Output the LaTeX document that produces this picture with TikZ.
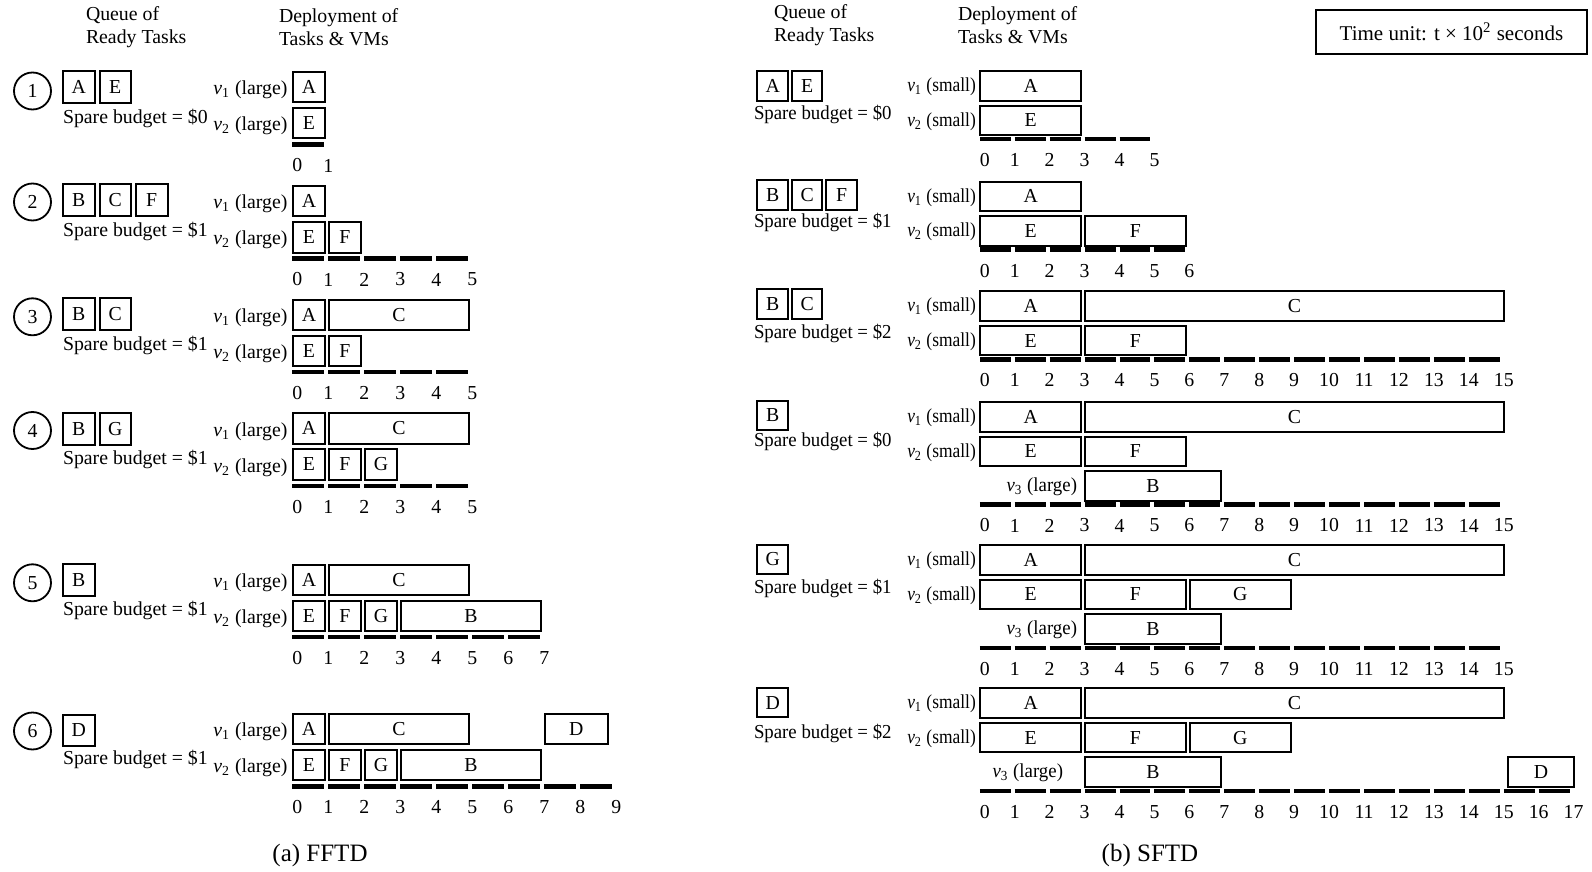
\documentclass[tikz,border=0pt]{standalone}
\usepackage{fontspec}
\setmainfont{Liberation Serif}
\newfontfamily\narrowa{Liberation Serif}[FakeStretch=0.88]
\newfontfamily\narrowb{Liberation Serif}[FakeStretch=0.95]
\usetikzlibrary{positioning}

\newcommand{\readyq}[3]{% prefix, y, tasks
  \foreach \q [count=\k] in {#3}
    \node[qbox] (#1q\k) at ({\qx+(\k-1)*\qp},#2) {\q};}
\newcommand{\vmlabel}[4]{% prefix, top, k, size
  \node[vmlab] (#1v#3) at ({\xo-\lo},{#2+(#3-1)*\vp+\bh/2+\ly})
    {\textit{v}\textsubscript{#3} (#4)};}
\newcommand{\tk}[6]{% name, top, k, start, end, task
  \node[taskbox,minimum width={((#5)-(#4))*\un*0.5pt-2pt}]
    (#1) at ({\xo+(#4)*\un+0.5},{#2+(#3-1)*\vp}) {#6};}
\newcommand{\timeline}[4]{% prefix, top, vms, units
  \foreach \i in {1,...,#4}
    \draw[bar] ({\xo+(\i-1)*\un},{#2+#3*\vp+\bo}) -- ({\xo+\i*\un-4},{#2+#3*\vp+\bo});
  \foreach \i in {0,...,#4}
    \node[tick] (#1t\i) at ({\xo+\i*\un+5*(\i==0)},{#2+#3*\vp+\bo+21}) {\i};}

\begin{document}
\begin{tikzpicture}[x=0.5pt,y=-0.5pt,
  every node/.style={inner sep=0pt,outer sep=0pt,font=\fontsize{9.9}{11.8}\selectfont},
  taskbox/.style={draw,line width=1pt,minimum height={\bh*0.5pt},anchor=north west},
  qbox/.style={draw,line width=1pt,minimum width={\qw*0.5pt},minimum height={\qh*0.5pt},anchor=west},
  stepno/.style={circle,draw,line width=0.9pt,minimum size=18.5pt},
  vmlab/.style={anchor=east},
  spare/.style={anchor=west},
  bar/.style={line width=2.2pt},
  tick/.style={},
  head/.style={align=left,anchor=west},
  caption/.style={font=\fontsize{12.5}{15}\selectfont}]
  \useasboundingbox (0,0) rectangle (1592,872);
  % column heads
  \node[head] (aqh) at (86,27) {Queue of\\Ready Tasks};
  \node[head] (adh) at (279,27) {Deployment of\\Tasks \& VMs};
  \node[head] (bqh) at (774,25) {Queue of\\Ready Tasks};
  \node[head] (bdh) at (958,25) {Deployment of\\Tasks \& VMs};
  \node[draw,line width=1pt,minimum width=135.5pt,minimum height=22pt,
        font=\fontsize{10.5}{13}\selectfont]
        (unit) at (1451.5,32) {Time unit: t × 10\textsuperscript{2} seconds};

  % (a) FFTD
  \def\xo{292.4}\def\un{36}\def\bh{30.5}\def\vp{36}\def\bo{0.5}\def\lo{5}\def\ly{3}
  \def\qx{63}\def\qp{36.5}\def\qw{31.5}\def\qh{31.5}
  % step 1
  \node[stepno] (a1n) at (32.5,91) {1};
  \readyq{a1}{87}{A,E}
  \node[spare] (a1s) at (63,118.5) {Spare budget = \$0};
  \vmlabel{a1}{72}{1}{large} \vmlabel{a1}{72}{2}{large}
  \tk{a1A}{72}{1}{0}{1}{A} \tk{a1E}{72}{2}{0}{1}{E}
  \timeline{a1}{72}{2}{1}
  % step 2
  \node[stepno] (a2n) at (32.5,202) {2};
  \readyq{a2}{200}{B,C,F}
  \node[spare] (a2s) at (63,231.5) {Spare budget = \$1};
  \vmlabel{a2}{186}{1}{large} \vmlabel{a2}{186}{2}{large}
  \tk{a2A}{186}{1}{0}{1}{A} \tk{a2E}{186}{2}{0}{1}{E} \tk{a2F}{186}{2}{1}{2}{F}
  \timeline{a2}{186}{2}{5}
  % step 3
  \node[stepno] (a3n) at (32.5,316.8) {3};
  \readyq{a3}{314}{B,C}
  \node[spare] (a3s) at (63,345) {Spare budget = \$1};
  \vmlabel{a3}{299.5}{1}{large} \vmlabel{a3}{299.5}{2}{large}
  \tk{a3A}{299.5}{1}{0}{1}{A} \tk{a3C}{299.5}{1}{1}{5}{C}
  \tk{a3E}{299.5}{2}{0}{1}{E} \tk{a3F}{299.5}{2}{1}{2}{F}
  \timeline{a3}{299.5}{2}{5}
  % step 4
  \node[stepno] (a4n) at (32.5,430.5) {4};
  \readyq{a4}{429}{B,G}
  \node[spare] (a4s) at (63,459) {Spare budget = \$1};
  \vmlabel{a4}{413.2}{1}{large} \vmlabel{a4}{413.2}{2}{large}
  \tk{a4A}{413.2}{1}{0}{1}{A} \tk{a4C}{413.2}{1}{1}{5}{C}
  \tk{a4E}{413.2}{2}{0}{1}{E} \tk{a4F}{413.2}{2}{1}{2}{F} \tk{a4G}{413.2}{2}{2}{3}{G}
  \timeline{a4}{413.2}{2}{5}
  % step 5
  \node[stepno] (a5n) at (32.5,582.8) {5};
  \readyq{a5}{580}{B}
  \node[spare] (a5s) at (63,610) {Spare budget = \$1};
  \vmlabel{a5}{564.5}{1}{large} \vmlabel{a5}{564.5}{2}{large}
  \tk{a5A}{564.5}{1}{0}{1}{A} \tk{a5C}{564.5}{1}{1}{5}{C}
  \tk{a5E}{564.5}{2}{0}{1}{E} \tk{a5F}{564.5}{2}{1}{2}{F} \tk{a5G}{564.5}{2}{2}{3}{G}
  \tk{a5B}{564.5}{2}{3}{7}{B}
  \timeline{a5}{564.5}{2}{7}
  % step 6
  \node[stepno] (a6n) at (32.5,731) {6};
  \readyq{a6}{730.5}{D}
  \node[spare] (a6s) at (63,759.4) {Spare budget = \$1};
  \vmlabel{a6}{713.8}{1}{large} \vmlabel{a6}{713.8}{2}{large}
  \tk{a6A}{713.8}{1}{0}{1}{A} \tk{a6C}{713.8}{1}{1}{5}{C} \tk{a6D}{713.8}{1}{7}{8.85}{D}
  \tk{a6E}{713.8}{2}{0}{1}{E} \tk{a6F}{713.8}{2}{1}{2}{F} \tk{a6G}{713.8}{2}{2}{3}{G}
  \tk{a6B}{713.8}{2}{3}{7}{B}
  \timeline{a6}{713.8}{2}{9}
  \node[caption] (acap) at (320,855) {(a) FFTD};

  % (b) SFTD
  \def\xo{979.8}\def\un{34.93}\def\bh{29.5}\def\vp{34.5}\def\bo{(-1)}\def\lo{4}\def\ly{1}
  \def\qx{757.4}\def\qp{34.5}\def\qw{30.5}\def\qh{29.5}
  \tikzset{vmlab/.append style={font=\fontsize{9.9}{11.8}\narrowa},
           spare/.append style={font=\fontsize{9.9}{11.8}\narrowb},
           bigvm/.style={anchor=east,font=\fontsize{9.9}{11.8}\narrowb}}
  % step 1
  \readyq{b1}{85.8}{A,E}
  \node[spare] (b1s) at (754,114) {Spare budget = \$0};
  \vmlabel{b1}{71.1}{1}{small} \vmlabel{b1}{71.1}{2}{small}
  \tk{b1A}{71.1}{1}{0}{3}{A} \tk{b1E}{71.1}{2}{0}{3}{E}
  \timeline{b1}{71.1}{2}{5}
  % step 2
  \readyq{b2}{195}{B,C,F}
  \node[spare] (b2s) at (754,222.3) {Spare budget = \$1};
  \vmlabel{b2}{181.7}{1}{small} \vmlabel{b2}{181.7}{2}{small}
  \tk{b2A}{181.7}{1}{0}{3}{A} \tk{b2E}{181.7}{2}{0}{3}{E} \tk{b2F}{181.7}{2}{3}{6}{F}
  \timeline{b2}{181.7}{2}{6}
  % step 3
  \readyq{b3}{304}{B,C}
  \node[spare] (b3s) at (754,333) {Spare budget = \$2};
  \vmlabel{b3}{291.4}{1}{small} \vmlabel{b3}{291.4}{2}{small}
  \tk{b3A}{291.4}{1}{0}{3}{A} \tk{b3C}{291.4}{1}{3}{15.1}{C}
  \tk{b3E}{291.4}{2}{0}{3}{E} \tk{b3F}{291.4}{2}{3}{6}{F}
  \timeline{b3}{291.4}{2}{15}
  % step 4
  \readyq{b4}{415.3}{B}
  \node[spare] (b4s) at (754,441.6) {Spare budget = \$0};
  \vmlabel{b4}{402}{1}{small} \vmlabel{b4}{402}{2}{small}
  \node[bigvm] (b4v3) at (1077,486.8) {\textit{v}\textsubscript{3} (large)};
  \tk{b4A}{402}{1}{0}{3}{A} \tk{b4C}{402}{1}{3}{15.1}{C}
  \tk{b4E}{402}{2}{0}{3}{E} \tk{b4F}{402}{2}{3}{6}{F}
  \tk{b4B}{402}{3}{3}{7}{B}
  \timeline{b4}{402}{3}{15}
  % step 5
  \readyq{b5}{559.4}{G}
  \node[spare] (b5s) at (754,588.8) {Spare budget = \$1};
  \vmlabel{b5}{545.2}{1}{small} \vmlabel{b5}{545.2}{2}{small}
  \node[bigvm] (b5v3) at (1077,630) {\textit{v}\textsubscript{3} (large)};
  \tk{b5A}{545.2}{1}{0}{3}{A} \tk{b5C}{545.2}{1}{3}{15.1}{C}
  \tk{b5E}{545.2}{2}{0}{3}{E} \tk{b5F}{545.2}{2}{3}{6}{F} \tk{b5G}{545.2}{2}{6}{9}{G}
  \tk{b5B}{545.2}{3}{3}{7}{B}
  \timeline{b5}{545.2}{3}{15}
  % step 6
  \readyq{b6}{702.6}{D}
  \node[spare] (b6s) at (754,733) {Spare budget = \$2};
  \vmlabel{b6}{688.4}{1}{small} \vmlabel{b6}{688.4}{2}{small}
  \node[bigvm] (b6v3) at (1063,773.2) {\textit{v}\textsubscript{3} (large)};
  \tk{b6A}{688.4}{1}{0}{3}{A} \tk{b6C}{688.4}{1}{3}{15.1}{C}
  \tk{b6E}{688.4}{2}{0}{3}{E} \tk{b6F}{688.4}{2}{3}{6}{F} \tk{b6G}{688.4}{2}{6}{9}{G}
  \tk{b6B}{688.4}{3}{3}{7}{B} \tk{b6D}{688.4}{3}{15.12}{17.1}{D}
  \timeline{b6}{688.4}{3}{17}
  \node[caption] (bcap) at (1150,855) {(b) SFTD};
\end{tikzpicture}
\end{document}
